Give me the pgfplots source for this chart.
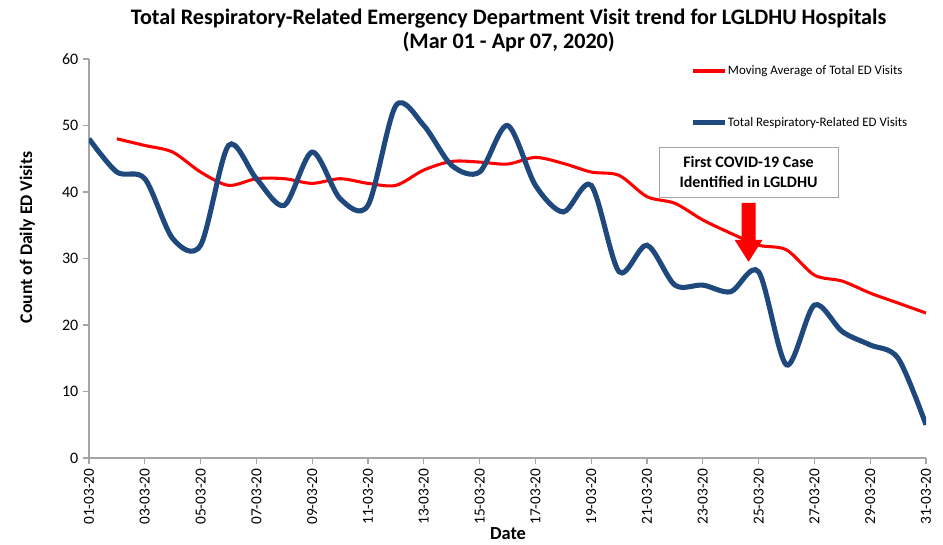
\documentclass[border=0pt]{standalone}
\usepackage{pgfplots}
\pgfplotsset{compat=1.18}
\usepackage{fontspec}
\setmainfont{Carlito}
\definecolor{edblue}{RGB}{31,73,125}
\definecolor{axgray}{RGB}{165,165,165}
\begin{document}
\begin{tikzpicture}[x=1pt,y=1pt]
\path[use as bounding box] (0,0) rectangle (707.25,408);
\begin{axis}[
  at={(66.75pt,64.5pt)}, anchor=south west,
  scale only axis, width=627.75pt, height=299.25pt,
  xmin=1, xmax=31, ymin=0, ymax=60,
  axis x line*=bottom, axis y line*=left,
  axis line style={-, draw=axgray, line width=0.8pt},
  tick style={draw=axgray, line width=0.8pt},
  tick align=outside, major tick length=4.5pt,
  xtick={1,3,...,31},
  xticklabels={01-03-20,03-03-20,05-03-20,07-03-20,09-03-20,11-03-20,13-03-20,15-03-20,17-03-20,19-03-20,21-03-20,23-03-20,25-03-20,27-03-20,29-03-20,31-03-20},
  xticklabel style={rotate=90, anchor=east, font=\fontsize{11.5}{13}\selectfont},
  ytick={0,10,...,60},
  yticklabel style={font=\fontsize{12}{13}\selectfont},
  /pgf/number format/assume math mode=true,
  legend style={at={(0.718,0.986)}, anchor=north west, draw=none, fill=none,
    font=\fontsize{9.7}{11}\selectfont, row sep=29.5pt, inner sep=0pt,
    nodes={inner sep=0.5pt}},
  legend cell align=left,
  legend image code/.code={\draw[#1] (0pt,0pt) -- (24pt,0pt);},
]
\addplot[red, line width=2.3pt, smooth] coordinates {
(2,48) (3,47) (4,46) (5,43) (6,41) (7,42) (8,42) (9,41.3) (10,42) (11,41.3)
(12,41) (13,43.3) (14,44.6) (15,44.5) (16,44.2) (17,45.2) (18,44.3) (19,43)
(20,42.5) (21,39.3) (22,38.3) (23,35.8) (24,33.8) (25,32) (26,31.3) (27,27.5)
(28,26.6) (29,24.8) (30,23.3) (31,21.8)};
\addlegendentry{Moving Average of Total ED Visits}
\addplot[edblue, line width=3.8pt, smooth] coordinates {
(1,48) (2,43) (3,42) (4,33) (5,32) (6,47) (7,42) (8,38) (9,46) (10,39)
(11,38) (12,53) (13,50) (14,44) (15,43) (16,50) (17,41) (18,37) (19,41)
(20,28) (21,32) (22,26) (23,26) (24,25) (25,28) (26,14) (27,23) (28,19)
(29,17) (30,15) (31,5)};
\addlegendentry{Total Respiratory-Related ED Visits}
\fill[red] (axis cs:24.39,38.35) -- (axis cs:24.89,38.35) -- (axis cs:24.89,32.8)
  -- (axis cs:25.14,32.8) -- (axis cs:24.64,29.5) -- (axis cs:24.14,32.8)
  -- (axis cs:24.39,32.8) -- cycle;
\node[draw=axgray, fill=white, align=center, inner sep=0pt,
  minimum width=134pt, minimum height=37.5pt,
  font=\bfseries\fontsize{12}{15}\selectfont]
  at (axis cs:24.64,43) {First COVID-19 Case\\Identified in LGLDHU};
\end{axis}
\node[align=center, font=\bfseries\fontsize{16.6}{18}\selectfont]
  at (381.5,385) {Total Respiratory-Related Emergency Department Visit trend for LGLDHU Hospitals\\(Mar 01 - Apr 07, 2020)};
\node[font=\bfseries\fontsize{13.8}{15}\selectfont] at (381,7.5) {Date};
\node[rotate=90, font=\bfseries\fontsize{13.3}{15}\selectfont] at (20.5,230) {Count of Daily ED Visits};
\end{tikzpicture}
\end{document}
